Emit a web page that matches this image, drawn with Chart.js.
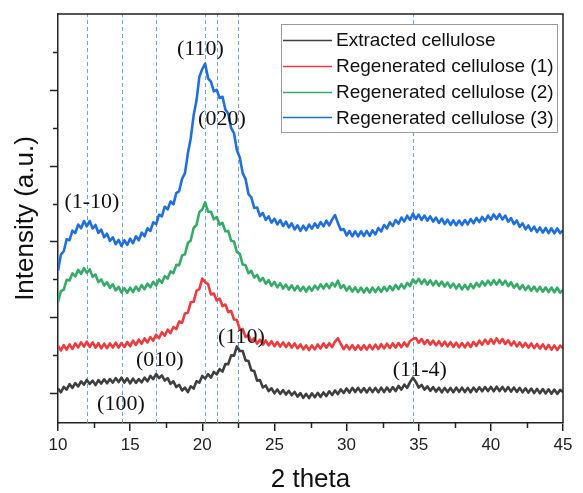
<!DOCTYPE html>
<html>
<head>
<meta charset="utf-8">
<script src="https://cdn.jsdelivr.net/npm/chart.js@4.4.0/dist/chart.umd.min.js"></script>
<style>
    body { margin: 0; background: #fff; }
    #chart_xrd { display: block; }
</style>
</head>
<body>
<canvas id="chart_xrd" width="583" height="493"></canvas>
<script>
// scan: 2 theta from 10 to 45, one reading every 0.2 deg
const thetaStart = 10;
const thetaStep = 0.2;

const extracted = [
    345,308,362,334,390,352,401,366,418,384,
    432,392,425,380,430,395,438,398,440,405,
    450,410,455,405,448,398,445,402,440,408,
    455,418,472,440,490,450,478,425,450,392,
    418,360,382,326,355,310,368,345,418,405,
    472,445,490,455,512,488,540,515,592,590,
    678,675,768,722,722,628,622,528,520,425,
    430,356,376,320,348,298,336,292,330,285,
    322,278,312,265,300,252,292,250,298,258,
    302,262,306,270,318,280,326,290,338,300,
    346,305,352,312,352,308,350,306,352,310,
    352,308,355,310,356,314,360,320,372,335,
    384,352,410,455,412,355,382,335,368,322,
    360,315,354,308,352,310,352,308,355,312,
    354,310,352,308,355,315,358,318,360,320,
    362,318,364,320,362,318,360,315,356,312,
    352,308,348,305,345,300,342,298,340,296,
    338,294,335,292,332,310
];
const regen1 = [
    772,728,780,735,788,742,798,758,808,766,
    815,762,808,755,800,748,795,750,798,756,
    805,755,802,762,812,770,825,782,835,795,
    848,808,862,825,885,850,910,875,935,902,
    962,942,1018,1005,1098,1105,1210,1215,1325,1345,
    1448,1412,1392,1288,1298,1228,1248,1172,1188,1112,
    1122,1038,1032,938,942,862,882,818,850,795,
    835,785,828,778,820,770,812,766,808,760,
    802,755,798,748,788,738,778,730,778,738,
    788,748,798,755,800,760,815,850,792,740,
    782,738,780,735,778,735,780,736,782,738,
    785,742,790,748,795,752,798,756,802,760,
    808,768,822,842,852,805,842,792,832,785,
    826,778,820,772,815,768,810,762,805,758,
    802,758,805,762,812,772,825,785,835,792,
    842,796,848,800,842,792,830,778,818,768,
    808,760,802,755,798,750,792,745,788,740,
    782,735,778,732,775,752
];
const regen2 = [
    1215,1322,1338,1435,1428,1500,1470,1535,1495,1552,
    1505,1540,1465,1488,1412,1440,1378,1412,1355,1390,
    1330,1365,1308,1352,1306,1356,1312,1368,1326,1382,
    1342,1398,1360,1416,1378,1440,1406,1472,1448,1520,
    1502,1585,1582,1680,1692,1805,1830,1955,1985,2115,
    2140,2212,2118,2118,2042,2065,1988,2005,1922,1925,
    1828,1820,1712,1695,1588,1582,1502,1525,1458,1485,
    1422,1455,1396,1432,1375,1414,1360,1400,1348,1388,
    1338,1380,1330,1375,1324,1366,1318,1366,1326,1378,
    1340,1390,1348,1395,1352,1404,1368,1428,1352,1382,
    1328,1368,1318,1360,1312,1356,1308,1354,1308,1356,
    1312,1360,1315,1365,1324,1372,1332,1384,1342,1392,
    1350,1404,1372,1440,1402,1446,1395,1438,1388,1430,
    1380,1424,1375,1418,1368,1408,1358,1398,1348,1390,
    1340,1384,1340,1392,1352,1405,1368,1420,1378,1428,
    1384,1432,1388,1434,1386,1426,1372,1410,1356,1394,
    1342,1382,1332,1374,1326,1368,1320,1364,1316,1360,
    1312,1358,1310,1356,1308,1330
];
const regen3 = [
    1525,1688,1722,1842,1832,1928,1905,1990,1952,2025,
    1972,2025,1950,1985,1905,1938,1862,1898,1825,1862,
    1792,1835,1775,1832,1785,1848,1802,1872,1832,1908,
    1872,1952,1925,2012,1992,2088,2072,2168,2142,2220,
    2192,2305,2325,2448,2505,2702,2855,3082,3235,3472,
    3548,3602,3455,3422,3325,3340,3258,3270,3142,3102,
    2955,2905,2735,2662,2505,2445,2295,2262,2155,2160,
    2075,2105,2035,2072,2008,2048,1990,2034,1975,2018,
    1960,2002,1940,1982,1925,1978,1932,1990,1948,2002,
    1958,2015,1972,2028,1980,2040,2085,2005,1935,1945,
    1880,1925,1872,1922,1870,1922,1875,1926,1875,1930,
    1890,1955,1920,1985,1950,2012,1975,2035,1998,2060,
    2020,2078,2035,2098,2045,2090,2035,2080,2028,2072,
    2018,2060,2005,2048,1994,2038,1985,2032,1982,2030,
    1984,2035,1990,2045,2002,2056,2014,2066,2024,2080,
    2038,2092,2045,2094,2040,2080,2018,2055,1994,2030,
    1966,2002,1942,1980,1926,1968,1914,1960,1908,1955,
    1904,1952,1902,1950,1904,1930
];

const seriesNames = ['Extracted cellulose', 'Regenerated cellulose (1)', 'Regenerated cellulose (2)', 'Regenerated cellulose (3)'];
const seriesColors = ['#3f3f3f', '#ef3b3d', '#36ab68', '#1f6fde'];

const peakLines = [12.0, 14.45, 16.8, 20.2, 21.05, 22.45, 34.6];
const peakLabels = ['(110)', '(020)', '(1-10)', '(100)', '(010)', '(110)', '(11-4)'];
const peakLabelX = [19.87, 21.36, 12.35, 14.36, 17.06, 22.72, 35.07];
const peakLabelY = [3750, 3050, 2210, 190, 630, 860, 530];

const xMinorTicks = [12.5, 17.5, 22.5, 27.5, 32.5, 37.5, 42.5];
const yTicks = [300, 680, 1060, 1440, 1820, 2200, 2580, 2960, 3340, 3720];

function toPoints(values) {
    return values.map((v, i) => ({x: thetaStart + i * thetaStep, y: v}));
}

const xrdDecor = {
    id: 'xrdDecor',
    beforeDatasetsDraw(chart) {
        const {ctx, chartArea, scales: {x}} = chart;
        ctx.save();
        ctx.strokeStyle = 'rgba(91, 155, 213, 0.9)';
        ctx.lineWidth = 1;
        ctx.setLineDash([4, 3]);
        peakLines.forEach(t => {
            const px = Math.round(x.getPixelForValue(t)) + 0.5;
            ctx.beginPath();
            ctx.moveTo(px, chartArea.bottom);
            ctx.lineTo(px, chartArea.top);
            ctx.stroke();
        });
        ctx.restore();
    },
    afterDraw(chart) {
        const {ctx, chartArea: a, scales: {x, y}} = chart;
        ctx.save();
        ctx.strokeStyle = '#222';
        ctx.lineWidth = 1.5;

        // box: top and right
        ctx.beginPath();
        ctx.moveTo(a.left, a.top);
        ctx.lineTo(a.right, a.top);
        ctx.lineTo(a.right, a.bottom);
        ctx.stroke();

        // y ticks, no labels, major/minor alternate
        yTicks.forEach((v, i) => {
            const py = Math.round(y.getPixelForValue(v)) + 0.5;
            const len = (i % 2 === 0) ? 8 : 5;
            ctx.beginPath();
            ctx.moveTo(a.left, py);
            ctx.lineTo(a.left - len, py);
            ctx.stroke();
        });
        // x minor ticks
        xMinorTicks.forEach(t => {
            const px = Math.round(x.getPixelForValue(t)) + 0.5;
            ctx.beginPath();
            ctx.moveTo(px, a.bottom);
            ctx.lineTo(px, a.bottom + 5);
            ctx.stroke();
        });

        // peak labels
        ctx.fillStyle = '#111';
        ctx.font = '22px "Liberation Serif", "Times New Roman", serif';
        ctx.textAlign = 'center';
        ctx.textBaseline = 'middle';
        peakLabels.forEach((txt, i) => {
            ctx.fillText(txt, x.getPixelForValue(peakLabelX[i]), y.getPixelForValue(peakLabelY[i]));
        });

        // legend box
        const box = {left: 281, top: 24, right: 557, bottom: 132};
        ctx.fillStyle = '#fff';
        ctx.fillRect(box.left, box.top, box.right - box.left, box.bottom - box.top);
        ctx.strokeStyle = '#9a9a9a';
        ctx.lineWidth = 1;
        ctx.strokeRect(box.left + 0.5, box.top + 0.5, box.right - box.left, box.bottom - box.top);
        ctx.font = '19px "Liberation Sans", Arial, sans-serif';
        ctx.textAlign = 'left';
        ctx.textBaseline = 'middle';
        seriesNames.forEach((name, i) => {
            const rowY = 40 + i * 25.8;
            ctx.strokeStyle = seriesColors[i];
            ctx.lineWidth = 1.5;
            ctx.beginPath();
            ctx.moveTo(283, Math.round(rowY) + 0.5);
            ctx.lineTo(332, Math.round(rowY) + 0.5);
            ctx.stroke();
            ctx.fillStyle = '#111';
            ctx.fillText(name, 336, rowY + 1);
        });
        ctx.restore();
    }
};

const seriesData = [extracted, regen1, regen2, regen3];

new Chart(document.getElementById('chart_xrd'), {
    type: 'line',
    data: {
        datasets: seriesData.map((vals, i) => ({
            label: seriesNames[i],
            data: toPoints(vals),
            borderColor: seriesColors[i],
            borderWidth: 2.6,
            borderJoinStyle: 'round',
            pointRadius: 0,
            tension: 0,
            fill: false,
        }))
    },
    options: {
        responsive: false,
        animation: false,
        devicePixelRatio: 1,
        layout: {
            padding: {top: 14, right: 20, left: 0, bottom: 0}
        },
        plugins: {
            legend: {display: false},
            tooltip: {enabled: false},
        },
        scales: {
            x: {
                type: 'linear',
                min: 10,
                max: 45,
                afterFit: s => { s.height = 70; },
                ticks: {
                    stepSize: 5,
                    autoSkip: false,
                    maxRotation: 0,
                    padding: 4,
                    color: '#222',
                    font: {family: '"Liberation Sans", Arial, sans-serif', size: 17},
                },
                grid: {
                    display: true,
                    drawOnChartArea: false,
                    drawTicks: true,
                    tickLength: 8,
                    color: '#222',
                    lineWidth: 1.5,
                },
                border: {display: true, color: '#222', width: 1.5},
                title: {
                    display: true,
                    text: '2 theta',
                    color: '#111',
                    padding: {top: 0, bottom: 0},
                    font: {family: '"Liberation Sans", Arial, sans-serif', size: 26, lineHeight: 1},
                },
            },
            y: {
                type: 'linear',
                min: 0,
                max: 4100,
                afterFit: s => { s.width = 58; },
                ticks: {display: false},
                grid: {display: false},
                border: {display: true, color: '#222', width: 1.5},
                title: {
                    display: true,
                    text: 'Intensity (a.u.)',
                    color: '#111',
                    padding: {top: 13, bottom: 0},
                    font: {family: '"Liberation Sans", Arial, sans-serif', size: 26, lineHeight: 1},
                },
            }
        }
    },
    plugins: [xrdDecor]
});
</script>
</body>
</html>
